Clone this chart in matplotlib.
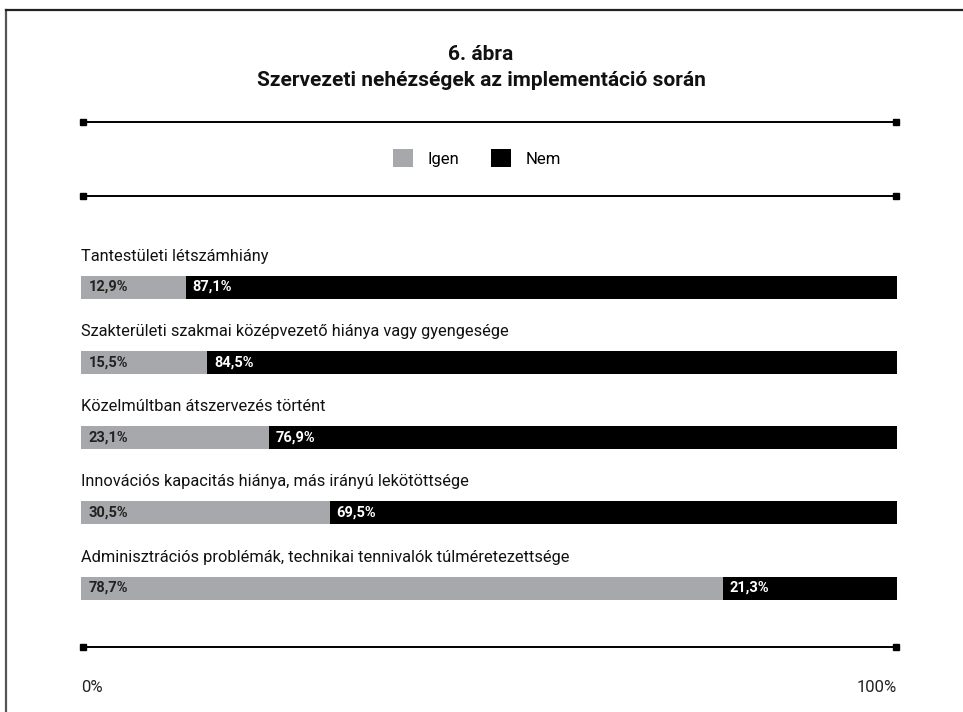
import matplotlib
matplotlib.use("Agg")
import matplotlib.pyplot as plt
from matplotlib.patches import Patch
from matplotlib.lines import Line2D

plt.rcParams['font.family'] = ['Roboto', 'DejaVu Sans']

categories = [
    "Tantestületi létszámhiány",
    "Szakterületi szakmai középvezető hiánya vagy gyengesége",
    "Közelmúltban átszervezés történt",
    "Innovációs kapacitás hiánya, más irányú lekötöttsége",
    "Adminisztrációs problémák, technikai tennivalók túlméretezettsége",
]
igen = [12.9, 15.5, 23.1, 30.5, 78.7]
nem = [87.1, 84.5, 76.9, 69.5, 21.3]
series_names = ["Igen", "Nem"]

GRAY = '#a7a8ab'
W, H = 963, 712

fig = plt.figure(figsize=(W / 100, H / 100), dpi=100)
fig.patch.set_facecolor('white')

def fx(px):
    return px / W

def fy(py):
    return 1 - py / H

# frame (left + top)
fig.add_artist(Line2D([fx(6), fx(6)], [fy(10), 0], color='#555555', lw=1.6))
fig.add_artist(Line2D([fx(6), 1], [fy(10), fy(10)], color='#222222', lw=1.6))

# title
fig.text(fx(481), fy(55), "6. ábra", ha='center', va='center',
         fontsize=15, fontweight='bold', color='#111111')
fig.text(fx(481), fy(81), "Szervezeti nehézségek az implementáció során",
         ha='center', va='center', fontsize=15, fontweight='bold', color='#111111')

# rules with square ends
for y in [122, 196, 647]:
    fig.add_artist(Line2D([fx(83), fx(896)], [fy(y), fy(y)], color='black',
                          lw=1.4, marker='s', markersize=3.8,
                          markevery=[0, 1]))

# legend
handles = [Patch(facecolor=GRAY, edgecolor='none'),
           Patch(facecolor='black', edgecolor='none')]
fig.legend(handles, series_names, loc='center', bbox_to_anchor=(fx(477), fy(158)),
           ncol=2, frameon=False, fontsize=12, handlelength=1.2,
           handleheight=1.2, handletextpad=0.9, columnspacing=1.9)

# bars
row = 75.25
top_c = 287
ax = fig.add_axes([fx(81), fy(top_c + 4.5 * row), fx(897) - fx(81), 5 * row / H])
ax.set_xlim(0, 100)
ax.set_ylim(4.5, -0.5)
ax.axis('off')

ypos = list(range(len(categories)))
bh = 23 / row
ax.barh(ypos, igen, height=bh, color=GRAY)
ax.barh(ypos, nem, left=igen, height=bh, color='black')

for i, (cat, a, b) in enumerate(zip(categories, igen, nem)):
    ax.text(0, i - 0.41, cat, ha='left', va='center', fontsize=11.8, color='#111111')
    ax.text(0.9, i, f"{a:.1f}%".replace('.', ','), ha='left', va='center',
            fontsize=10.5, fontweight='bold', color='#222222')
    ax.text(a + 0.8, i, f"{b:.1f}%".replace('.', ','), ha='left', va='center',
            fontsize=10.5, fontweight='bold', color='white')

# axis end labels
fig.text(fx(81), fy(687), "0%", ha='left', va='center', fontsize=12, color='#222222')
fig.text(fx(897), fy(687), "100%", ha='right', va='center', fontsize=12, color='#222222')

fig.savefig("out.png", dpi=100, facecolor='white')
